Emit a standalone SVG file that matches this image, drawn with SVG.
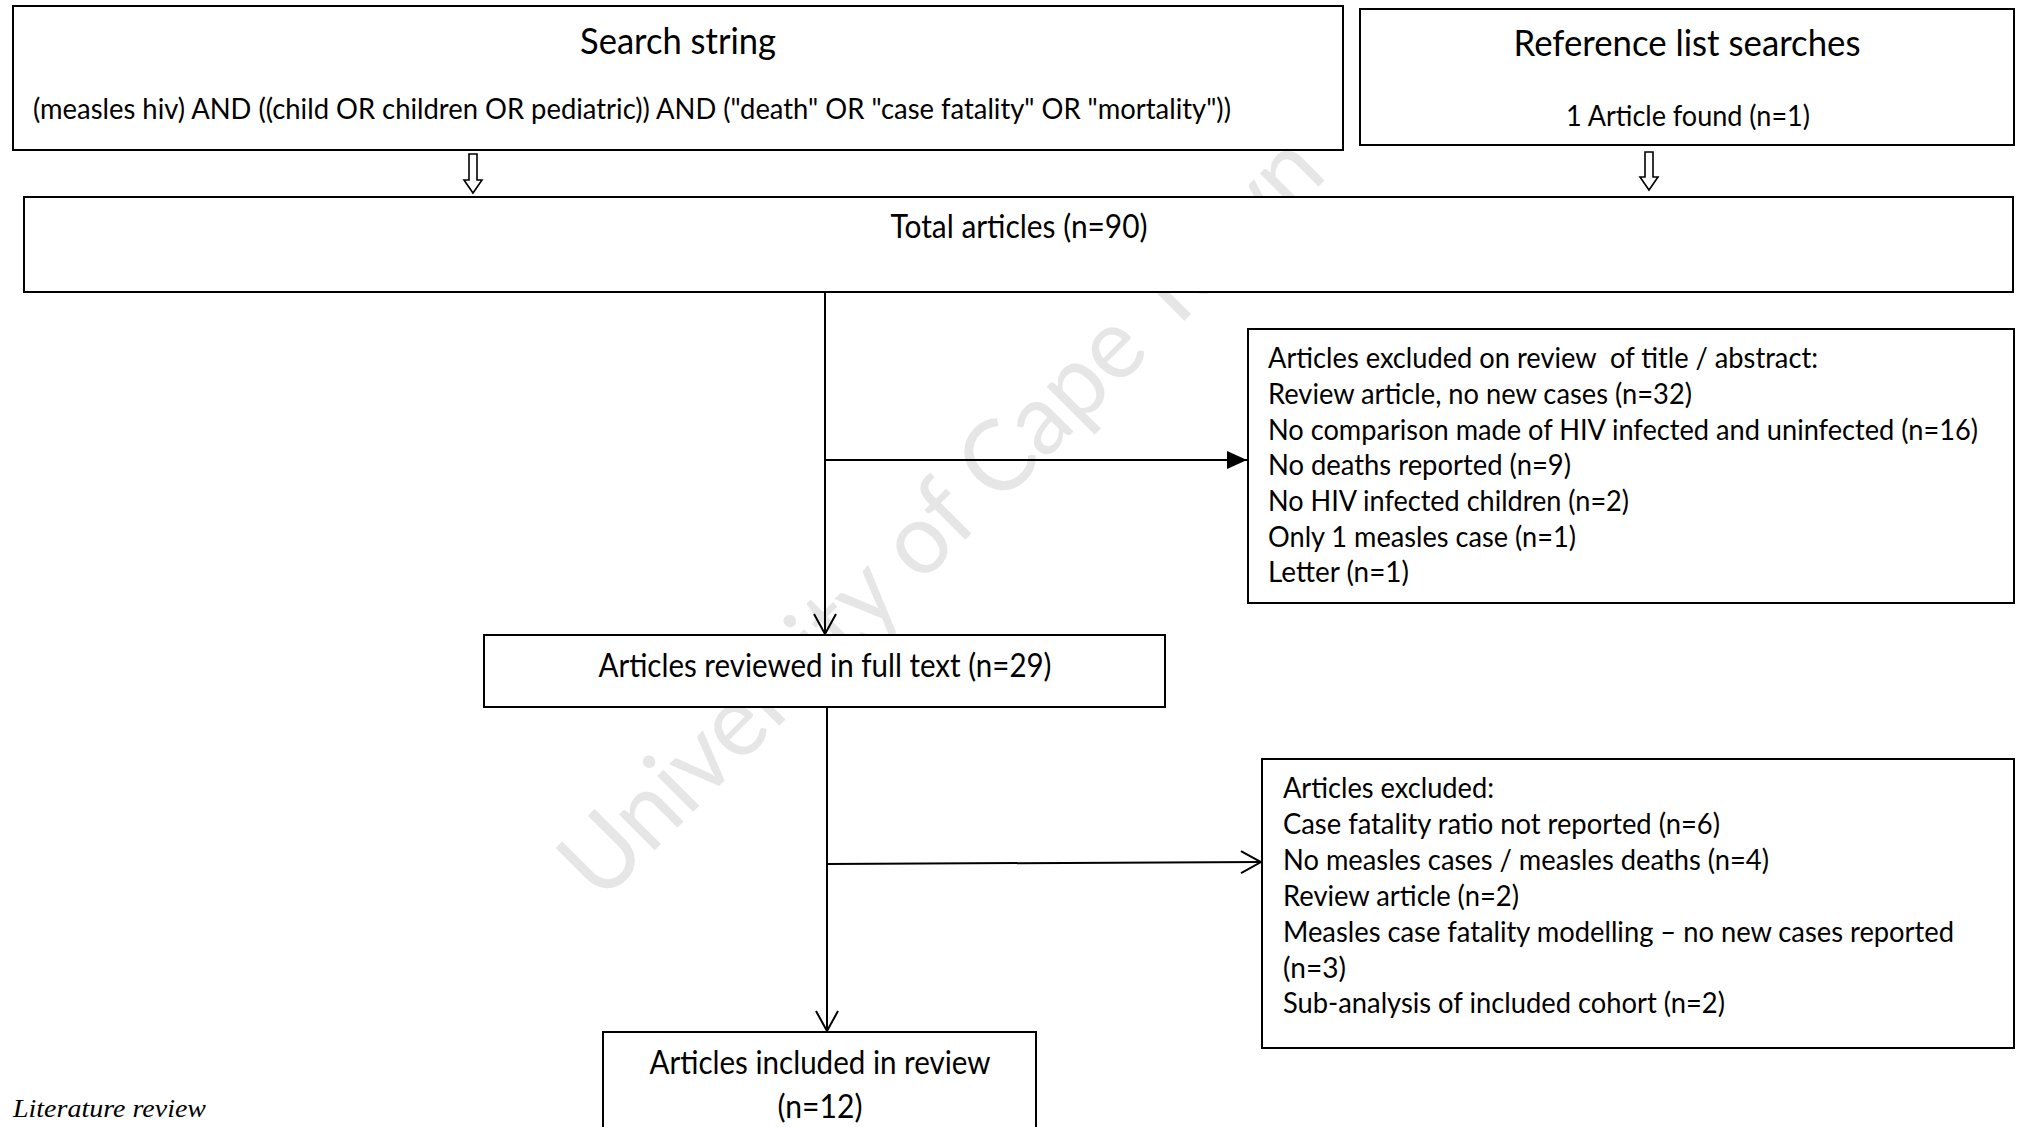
<svg xmlns="http://www.w3.org/2000/svg" width="2017" height="1127" viewBox="0 0 2017 1127">
<style>
.box{fill:#fff;stroke:#000;stroke-width:2}
.t{font-family:Lato,'Liberation Sans',sans-serif;fill:#000}
.body{font-size:29px}
.big{font-size:32px}
.title{font-size:37px}
.ln{stroke:#000;stroke-width:2;fill:none}
.blk{fill:#fff;stroke:#000;stroke-width:1.6}
.wm{font-family:Lato,'Liberation Sans',sans-serif;font-size:100px;fill:#e6e6e6}
.it{font-family:'Liberation Serif',serif;font-style:italic;font-size:25px;fill:#000}
</style>
<defs>
<marker id="open" viewBox="0 0 22 24" refX="21" refY="12" markerWidth="22" markerHeight="24" markerUnits="userSpaceOnUse" orient="auto">
<path d="M1,1 L21,12 L1,23" fill="none" stroke="#000" stroke-width="2"/>
</marker>
<marker id="solid" viewBox="0 0 20 18" refX="20" refY="9" markerWidth="20" markerHeight="18" markerUnits="userSpaceOnUse" orient="auto">
<path d="M0,0 L20,9 L0,18 Z" fill="#000"/>
</marker>
</defs>
<rect width="2017" height="1127" fill="#fff"/>
<text class="wm" x="965" y="540" text-anchor="middle" textLength="1030" lengthAdjust="spacingAndGlyphs" transform="rotate(-45 965 540)">University of Cape Town</text>

<g id="search">
<rect class="box" x="13" y="6" width="1330" height="144"/>
<text class="t title" x="678" y="54" text-anchor="middle" textLength="196" lengthAdjust="spacingAndGlyphs">Search string</text>
<text class="t body" x="33" y="119" textLength="1198" lengthAdjust="spacingAndGlyphs">(measles hiv) AND ((child OR children OR pediatric)) AND ("death" OR "case fatality" OR "mortality"))</text>
</g>
<g id="reference">
<rect class="box" x="1360" y="9" width="654" height="136"/>
<text class="t title" x="1687" y="56" text-anchor="middle" textLength="347" lengthAdjust="spacingAndGlyphs">Reference list searches</text>
<text class="t body" x="1688" y="126" text-anchor="middle" textLength="244" lengthAdjust="spacingAndGlyphs">1 Article found (n=1)</text>
</g>
<g id="total">
<rect class="box" x="24" y="197" width="1989" height="95"/>
<text class="t big" x="1019" y="238" text-anchor="middle" textLength="257" lengthAdjust="spacingAndGlyphs">Total articles (n=90)</text>
</g>
<g id="excluded1">
<rect class="box" x="1248" y="329" width="766" height="274"/>
<text class="t body" x="1268" y="368" textLength="550" lengthAdjust="spacingAndGlyphs" xml:space="preserve">Articles excluded on review  of title / abstract:</text>
<text class="t body" x="1268" y="404" textLength="424" lengthAdjust="spacingAndGlyphs">Review article, no new cases (n=32)</text>
<text class="t body" x="1268" y="440" textLength="710" lengthAdjust="spacingAndGlyphs">No comparison made of HIV infected and uninfected (n=16)</text>
<text class="t body" x="1268" y="475" textLength="303" lengthAdjust="spacingAndGlyphs">No deaths reported (n=9)</text>
<text class="t body" x="1268" y="511" textLength="361" lengthAdjust="spacingAndGlyphs">No HIV infected children (n=2)</text>
<text class="t body" x="1268" y="547" textLength="308" lengthAdjust="spacingAndGlyphs">Only 1 measles case (n=1)</text>
<text class="t body" x="1268" y="582" textLength="141" lengthAdjust="spacingAndGlyphs">Letter (n=1)</text>
</g>
<g id="fulltext">
<rect class="box" x="484" y="635" width="681" height="72"/>
<text class="t big" x="825" y="677" text-anchor="middle" textLength="453" lengthAdjust="spacingAndGlyphs">Articles reviewed in full text (n=29)</text>
</g>
<g id="excluded2">
<rect class="box" x="1262" y="759" width="752" height="289"/>
<text class="t body" x="1283" y="798" textLength="211" lengthAdjust="spacingAndGlyphs">Articles excluded:</text>
<text class="t body" x="1283" y="834" textLength="437" lengthAdjust="spacingAndGlyphs">Case fatality ratio not reported (n=6)</text>
<text class="t body" x="1283" y="870" textLength="486" lengthAdjust="spacingAndGlyphs">No measles cases / measles deaths (n=4)</text>
<text class="t body" x="1283" y="906" textLength="236" lengthAdjust="spacingAndGlyphs">Review article (n=2)</text>
<text class="t body" x="1283" y="942" textLength="671" lengthAdjust="spacingAndGlyphs">Measles case fatality modelling – no new cases reported</text>
<text class="t body" x="1283" y="978" textLength="63" lengthAdjust="spacingAndGlyphs">(n=3)</text>
<text class="t body" x="1283" y="1013" textLength="442" lengthAdjust="spacingAndGlyphs">Sub-analysis of included cohort (n=2)</text>
</g>
<g id="included">
<rect class="box" x="603" y="1032" width="433" height="130"/>
<text class="t big" x="820" y="1074" text-anchor="middle" textLength="341" lengthAdjust="spacingAndGlyphs">Articles included in review</text>
<text class="t big" x="820" y="1118" text-anchor="middle" textLength="85" lengthAdjust="spacingAndGlyphs">(n=12)</text>
</g>
<g id="caption">
<text class="it" x="13" y="1117" textLength="193" lengthAdjust="spacingAndGlyphs">Literature review</text>
</g>
<g id="connectors">
<path class="blk" d="M469,154 H477 V180 H482 L473,193 L464,180 H469 Z"/>
<path class="blk" d="M1645,152 H1653 V177 H1658 L1649,190 L1640,177 H1645 Z"/>
<path class="ln" d="M825,293 V634" marker-end="url(#open)"/>
<path class="ln" d="M825,460 H1247" marker-end="url(#solid)"/>
<path class="ln" d="M827,708 V1031" marker-end="url(#open)"/>
<path class="ln" d="M827,864 L1261,862" marker-end="url(#open)"/>
</g>
</svg>
